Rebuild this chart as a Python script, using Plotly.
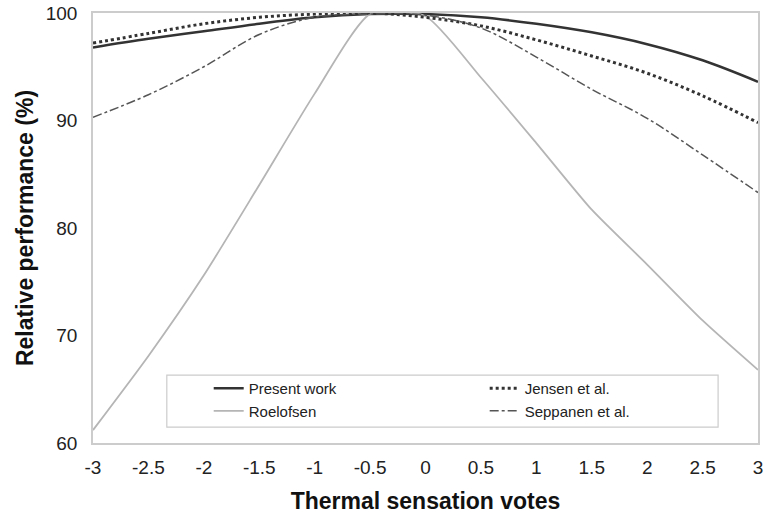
import plotly.graph_objects as go

x_votes = [-3, -2.5, -2, -1.5, -1, -0.5, 0, 0.5, 1, 1.5, 2, 2.5, 3]
present_work = [96.8, 97.6, 98.3, 99.0, 99.6, 99.9, 99.9, 99.6, 99.0, 98.2, 97.1, 95.6, 93.6]
jensen = [97.2, 98.1, 99.0, 99.6, 99.9, 100.0, 99.6, 98.8, 97.5, 96.0, 94.4, 92.3, 89.8]
roelofsen = [61.2, 68.1, 75.6, 84.0, 92.5, 99.9, 99.7, 94.0, 87.9, 81.7, 76.6, 71.4, 66.8]
seppanen = [90.3, 92.4, 95.0, 98.0, 99.6, 99.9, 99.8, 98.6, 95.9, 92.9, 90.2, 86.8, 83.3]

x_ticks = [-3, -2.5, -2, -1.5, -1, -0.5, 0, 0.5, 1, 1.5, 2, 2.5, 3]
x_tick_labels = ["-3", "-2.5", "-2", "-1.5", "-1", "-0.5", "0", "0.5", "1", "1.5", "2", "2.5", "3"]
y_ticks = [60, 70, 80, 90, 100]

fig = go.Figure()
fig.add_trace(go.Scatter(x=x_votes, y=present_work, name="Present work", mode="lines", legend="legend",
                         line=dict(color="#333333", width=2.5, shape="spline")))
fig.add_trace(go.Scatter(x=x_votes, y=roelofsen, name="Roelofsen", mode="lines", legend="legend",
                         line=dict(color="#b5b5b5", width=1.8, shape="spline", smoothing=0.6)))
fig.add_trace(go.Scatter(x=x_votes, y=jensen, name="Jensen et al.", mode="lines", legend="legend2",
                         line=dict(color="#333333", width=3, dash="dot", shape="spline")))
fig.add_trace(go.Scatter(x=x_votes, y=seppanen, name="Seppanen et al.", mode="lines", legend="legend2",
                         line=dict(color="#555555", width=1.5, dash="dashdot", shape="spline")))

fig.add_shape(type="rect", xref="paper", yref="paper", x0=0.111, x1=0.94, y0=0.037, y1=0.158,
              line=dict(color="#cccccc", width=1.2), fillcolor="rgba(0,0,0,0)", layer="below")

legend_common = dict(yanchor="top", xanchor="left", y=0.165, bgcolor="rgba(0,0,0,0)",
                     font=dict(size=15, color="#222222"), tracegroupgap=0, itemwidth=30,
                     orientation="v")

fig.update_layout(
    width=765, height=515,
    margin=dict(l=93, r=7, t=13, b=72, autoexpand=False),
    plot_bgcolor="white", paper_bgcolor="white",
    font=dict(family="Liberation Sans, Arial, sans-serif", color="#222222"),
    showlegend=True,
    legend=dict(x=0.174, **legend_common),
    legend2=dict(x=0.589, **legend_common),
    xaxis=dict(range=[-3, 3], tickvals=x_ticks, ticktext=x_tick_labels, showgrid=False,
               zeroline=False, showline=True, linecolor="#cccccc", linewidth=1.5, mirror=True,
               ticks="", tickfont=dict(size=19, color="#222222"), ticklabeloverflow="allow",
               ticklabelstandoff=6, automargin=False,
               title=dict(text="<b>Thermal sensation votes</b>", font=dict(size=23, color="#111111"),
                          standoff=16)),
    yaxis=dict(range=[60, 100], tickvals=y_ticks, showgrid=False, zeroline=False,
               showline=True, linecolor="#cccccc", linewidth=1.5, mirror=True, ticks="",
               tickfont=dict(size=19, color="#222222"), ticklabeloverflow="allow",
               ticklabelstandoff=10, automargin=False,
               title=dict(text="<b>Relative performance (%)</b>", font=dict(size=23, color="#111111"),
                          standoff=6)),
)

fig.write_html("out.html", config={"displayModeBar": False},
               post_script="document.body.style.margin='0';document.body.style.overflow='hidden';")
